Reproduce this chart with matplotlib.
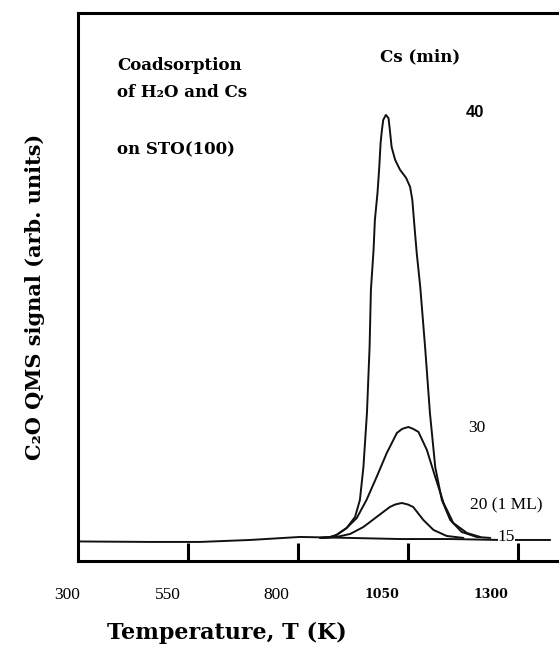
import matplotlib
matplotlib.use("Agg")
import matplotlib.pyplot as plt
import matplotlib.transforms as mtransforms

# Temperature (K) and QMS signal (arb. units)
t_15 = [300, 463, 577, 691, 804, 918, 1031, 1145, 1258, 1372]
s_15 = [3.56, 3.47, 3.47, 3.83, 4.38, 4.2, 4.0, 4.0, 3.83, 3.83]

t_20 = [850, 887, 918, 948, 978, 1008, 1020, 1035, 1049, 1061, 1084, 1107,
        1137, 1175]
s_20 = [4.2, 4.38, 4.93, 6.2, 8.03, 9.85, 10.3, 10.58, 10.3, 9.85, 7.48,
        5.66, 4.56, 4.2]

t_30 = [850, 872, 887, 910, 933, 955, 978, 1001, 1024, 1036, 1050, 1061,
        1073, 1092, 1111, 1130, 1152, 1183, 1213]
s_30 = [4.2, 4.3, 4.74, 6.02, 7.85, 11.13, 15.33, 19.7, 23.36, 24.1, 24.45,
        24.1, 23.54, 20.26, 15.33, 10.58, 6.93, 5.11, 4.38]

t_40 = [850, 872, 887, 910, 929, 940, 948, 956, 962, 965, 971, 974, 980,
        984, 987, 990, 993, 999, 1005, 1008, 1012, 1020, 1031, 1045, 1054,
        1059, 1064, 1069, 1077, 1088, 1099, 1111, 1126, 1145, 1171, 1205,
        1236]
s_40 = [4.2, 4.38, 4.74, 6.02, 8.03, 11.13, 17.15, 27.0, 39.05, 49.45,
        56.75, 62.2, 67.2, 71.9, 76.3, 78.65, 80.5, 81.4, 80.8, 78.65, 75.55,
        73.2, 71.4, 69.9, 68.25, 65.9, 60.95, 56.2, 50.0, 39.05, 27.0, 17.15,
        11.13, 7.48, 5.29, 4.38, 4.2]

tick_values = [550, 800, 1050, 1300]
tick_labels = ["300", "550", "800", "1050", "1300"]
tick_label_t = [276, 503, 751, 991, 1238]

fig = plt.figure(figsize=(5.59, 6.5), dpi=100)
ax = fig.add_axes([0.1395, 0.137, 0.8605, 0.843])

for t, s in [(t_15, s_15), (t_20, s_20), (t_30, s_30), (t_40, s_40)]:
    ax.plot(t, s, color="#111111", lw=1.4, solid_joinstyle="round",
            solid_capstyle="round")

ax.set_xlim(300, 1392)
ax.set_ylim(0, 100)

ax.spines["right"].set_visible(False)
for side in ["left", "top", "bottom"]:
    ax.spines[side].set_linewidth(2.2)

ax.set_yticks([])
ax.set_xticks(tick_values)
ax.set_xticklabels([])
ax.tick_params(axis="x", direction="in", length=13, width=2.2)

# tick labels sit a bit left of the tick marks in the original
trans = mtransforms.blended_transform_factory(ax.transData, fig.transFigure)
for lab, t in zip(tick_labels, tick_label_t):
    if len(lab) == 4:
        ax.text(t, 0.085, lab, transform=trans, ha="center", va="center",
                family="DejaVu Serif", weight="bold", fontsize=9, clip_on=False)
    else:
        ax.text(t, 0.085, lab, transform=trans, ha="center", va="center",
                family="Liberation Serif", fontsize=12.5, clip_on=False)

serif = "DejaVu Serif"
fig.text(0.405, 0.026, "Temperature, T (K)", ha="center", va="center",
         family=serif, weight="bold", fontsize=16)
fig.text(0.063, 0.543, "C\u2082O QMS signal (arb. units)", rotation=90,
         ha="center", va="center", family=serif, weight="bold", fontsize=15)

ax.text(0.081, 0.905, "Coadsorption", transform=ax.transAxes, family=serif,
        weight="bold", fontsize=12, va="center")
ax.text(0.081, 0.855, "of H\u2082O and Cs", transform=ax.transAxes, family=serif,
        weight="bold", fontsize=12, va="center")
ax.text(0.081, 0.75, "on STO(100)", transform=ax.transAxes, family=serif,
        weight="bold", fontsize=12, va="center")
ax.text(0.627, 0.92, "Cs (min)", transform=ax.transAxes, family=serif,
        weight="bold", fontsize=12, va="center")

ax.text(1201, 81.8, "40", ha="center", va="center", family="Liberation Sans",
        weight="bold", fontsize=12)
ax.text(1205, 24.3, "30", ha="center", va="center", family="Liberation Serif",
        fontsize=12.5)
ax.text(1191, 10.2, "20 (1 ML)", ha="left", va="center",
        family="Liberation Serif", fontsize=12.5)
ax.text(1273, 4.4, "15", ha="center", va="center", family="Liberation Serif",
        fontsize=12.5, bbox=dict(facecolor="white", edgecolor="none", pad=0.1))

fig.savefig("out.png", dpi=100)
